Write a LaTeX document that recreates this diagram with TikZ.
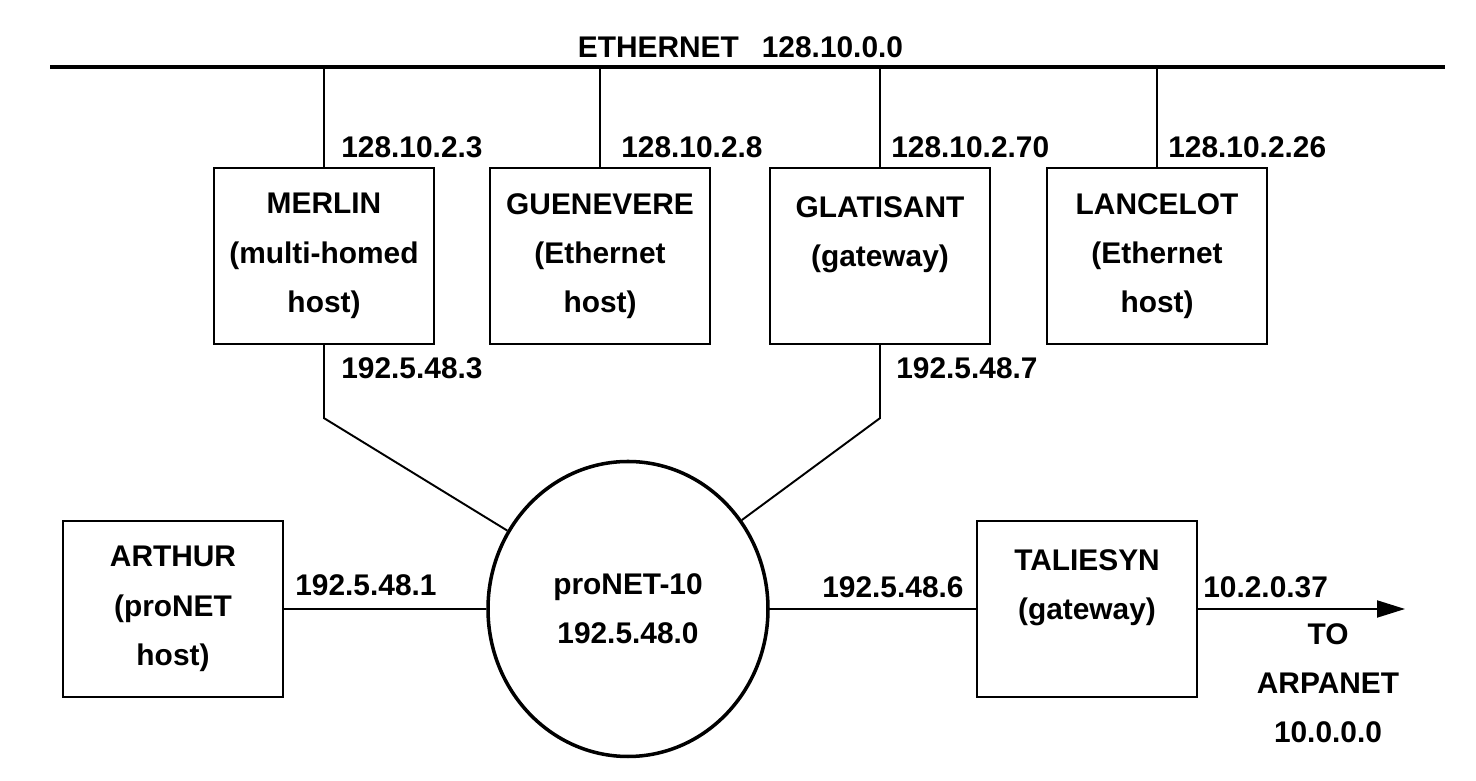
\documentclass[tikz,border=0pt]{standalone}
\usepackage{fontspec}
\setmainfont{Liberation Sans}
\usetikzlibrary{shapes.geometric,arrows.meta}
\begin{document}
\begin{tikzpicture}[
        host/.style={draw, line width=1.3pt, minimum width=4.4cm, minimum height=3.52cm, align=center, inner sep=0pt},
        addr/.style={anchor=west, inner sep=0pt},
        wire/.style={line width=1.1pt},
        every node/.style={font=\fontsize{17}{28}\selectfont\bfseries}
    ]
    \useasboundingbox (0,0) rectangle (29.52,15.62);

    \coordinate (ethL) at (1.0,14.28);
    \coordinate (ethR) at (28.9,14.28);
    \draw[line width=2pt] (ethL) to (ethR);
    \node (ethname) at (14.81,14.68){ETHERNET\hspace{0.46cm}128.10.0.0};

    \node[host] (merlin) at (6.48,10.5){MERLIN\\(multi-homed\\host)};
        \draw[wire] (merlin.north) to (merlin.north |- ethL);
        \node[addr] (merlinE) at (6.82,12.68){128.10.2.3};
        \node[addr] (merlinP) at (6.82,8.26){192.5.48.3};
    \node[host] (guenevere) at (12.0,10.5){GUENEVERE\\(Ethernet\\host)};
        \draw[wire] (guenevere.north) to (guenevere.north |- ethL);
        \node[addr] (guenevereE) at (12.42,12.68){128.10.2.8};
    \node[host] (glatisant) at (17.6,10.5){GLATISANT\\(gateway)\\~};
        \draw[wire] (glatisant.north) to (glatisant.north |- ethL);
        \node[addr] (glatisantE) at (17.82,12.68){128.10.2.70};
        \node[addr] (glatisantP) at (17.92,8.26){192.5.48.7};
    \node[host] (lancelot) at (23.14,10.5){LANCELOT\\(Ethernet\\host)};
        \draw[wire] (lancelot.north) to (lancelot.north |- ethL);
        \node[addr] (lancelotE) at (23.36,12.68){128.10.2.26};

    \node[draw, ellipse, line width=2pt, minimum width=5.6cm, minimum height=5.9cm, inner sep=0pt, align=center] (pronet) at (12.56,3.44){proNET-10\\192.5.48.0};
        \draw[wire] (merlin.south) -- ++(0,-1.46) -- (pronet.147);
        \draw[wire] (glatisant.south) -- ++(0,-1.46) -- (pronet.38);

    \node[host] (arthur) at (3.46,3.44){ARTHUR\\(proNET\\host)};
        \draw[wire] (arthur.east) to (pronet.west);
        \node[addr] (arthurP) at (5.9,3.92){192.5.48.1};
    \node[host] (taliesyn) at (21.74,3.44){TALIESYN\\(gateway)\\~};
        \draw[wire] (pronet.east) to (taliesyn.west);
        \node[addr] (taliesynP) at (16.44,3.88){192.5.48.6};
        \node[addr] (taliesynA) at (24.06,3.88){10.2.0.37};

    \coordinate (arpa) at (28.1,3.44);
    \draw[wire, -{Triangle[length=5.6mm, width=3.4mm]}] (taliesyn.east) to (arpa);
    \node[align=center] (arpanet) at (26.56,1.96){TO\\ARPANET\\10.0.0.0};
\end{tikzpicture}
\end{document}
